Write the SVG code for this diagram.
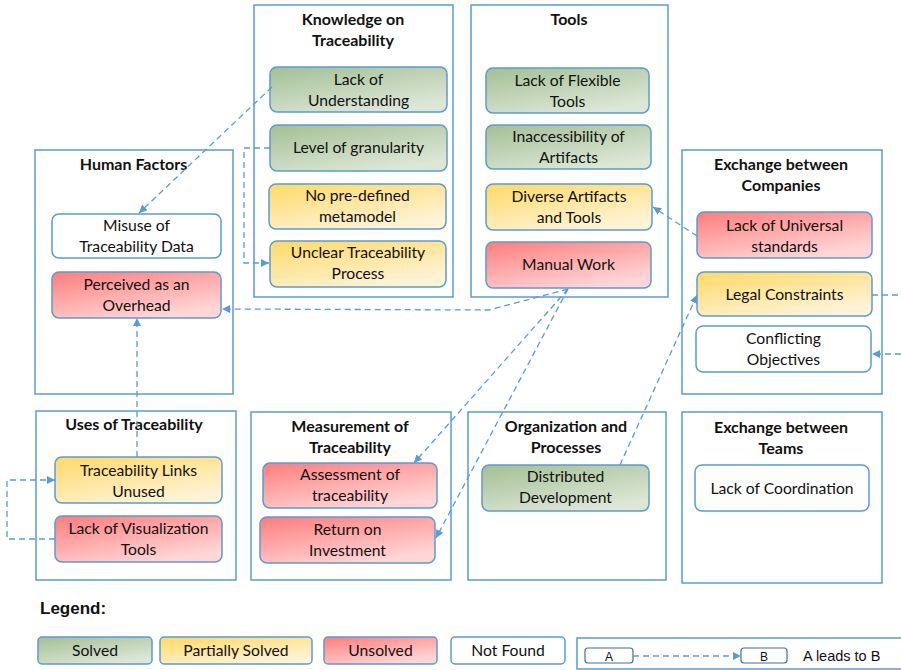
<svg xmlns="http://www.w3.org/2000/svg" width="901" height="670" viewBox="0 0 901 670">
<defs>
<linearGradient id="gG" x1="0" y1="0" x2="0.6" y2="1"><stop offset="0" stop-color="#A4BF95"/><stop offset="1" stop-color="#DCE7D6"/></linearGradient>
<linearGradient id="gY" x1="0" y1="0" x2="0.6" y2="1"><stop offset="0" stop-color="#FFD966"/><stop offset="1" stop-color="#FFF3D6"/></linearGradient>
<linearGradient id="gR" x1="0" y1="0" x2="0.6" y2="1"><stop offset="0" stop-color="#FF7C7C"/><stop offset="1" stop-color="#FFD6D6"/></linearGradient>
<marker id="ah" markerUnits="userSpaceOnUse" markerWidth="9" markerHeight="8" refX="8" refY="4" orient="auto"><path d="M0,0 L8,4 L0,8 z" fill="#5B9BD5"/></marker>
</defs>
<style>
.c{fill:none;stroke:#5B9BD5;stroke-width:1.5}
.n{stroke:#5B9BD5;stroke-width:1.5}
.w{fill:#fff}
.g{fill:url(#gG)}
.y{fill:url(#gY)}
.r{fill:url(#gR)}
.t{font-family:Lato,"Open Sans",sans-serif;font-size:15.7px;fill:#111;text-anchor:middle}
.h{font-family:Lato,"Open Sans",sans-serif;font-size:16px;font-weight:bold;fill:#111;text-anchor:middle}
.e{fill:none;stroke:#5B9BD5;stroke-width:1.3;stroke-dasharray:6,4}
.a{font-family:"Liberation Sans",Arial,sans-serif;fill:#111}
</style>

<g id="knowledge">
<rect class="c" x="254" y="5" width="199" height="292"/>
<text class="h" x="353" y="25">Knowledge on</text>
<text class="h" x="353" y="46">Traceability</text>
</g>
<g id="lack-understanding"><rect class="n g" x="270" y="67" width="177" height="45" rx="7"/><text class="t" x="358.5" y="85">Lack of</text><text class="t" x="358.5" y="106">Understanding</text></g>
<g id="level-granularity"><rect class="n g" x="270" y="125" width="177" height="46" rx="7"/><text class="t" x="358.5" y="153">Level of granularity</text></g>
<g id="no-metamodel"><rect class="n y" x="269" y="184" width="177" height="45" rx="7"/><text class="t" x="357.5" y="201">No pre-defined</text><text class="t" x="357.5" y="222">metamodel</text></g>
<g id="unclear-process"><rect class="n y" x="270" y="241" width="176" height="46" rx="7"/><text class="t" x="358" y="258">Unclear Traceability</text><text class="t" x="358" y="279">Process</text></g>

<g id="tools">
<rect class="c" x="471" y="5" width="197" height="292"/>
<text class="h" x="569" y="25">Tools</text>
</g>
<g id="flexible-tools"><rect class="n g" x="486" y="68" width="163" height="45" rx="7"/><text class="t" x="567.5" y="86">Lack of Flexible</text><text class="t" x="567.5" y="107">Tools</text></g>
<g id="inaccessibility"><rect class="n g" x="486" y="125" width="165" height="44" rx="7"/><text class="t" x="568.5" y="142">Inaccessibility of</text><text class="t" x="568.5" y="163">Artifacts</text></g>
<g id="diverse-artifacts"><rect class="n y" x="486" y="184" width="166" height="46" rx="7"/><text class="t" x="569" y="202">Diverse Artifacts</text><text class="t" x="569" y="223">and Tools</text></g>
<g id="manual-work"><rect class="n r" x="486" y="242" width="165" height="46" rx="7"/><text class="t" x="568.5" y="270">Manual Work</text></g>

<g id="human-factors">
<rect class="c" x="35" y="150" width="198" height="244"/>
<text class="h" x="133.5" y="170">Human Factors</text>
</g>
<g id="misuse"><rect class="n w" x="52" y="214" width="169" height="44" rx="7"/><text class="t" x="136.5" y="231">Misuse  of</text><text class="t" x="136.5" y="252">Traceability Data</text></g>
<g id="overhead"><rect class="n r" x="52" y="272" width="169" height="46" rx="7"/><text class="t" x="136.5" y="290">Perceived as an</text><text class="t" x="136.5" y="311">Overhead</text></g>

<g id="exchange-companies">
<rect class="c" x="682" y="150" width="200" height="244"/>
<text class="h" x="781" y="170">Exchange between</text>
<text class="h" x="781" y="191">Companies</text>
</g>
<g id="universal-standards"><rect class="n r" x="697" y="212" width="175" height="46" rx="7"/><text class="t" x="784.5" y="231">Lack of Universal</text><text class="t" x="784.5" y="252">standards</text></g>
<g id="legal-constraints"><rect class="n y" x="697" y="272" width="175" height="44" rx="7"/><text class="t" x="784.5" y="300">Legal Constraints</text></g>
<g id="conflicting-objectives"><rect class="n w" x="696" y="326" width="175" height="46" rx="7"/><text class="t" x="783.5" y="344">Conflicting</text><text class="t" x="783.5" y="365">Objectives</text></g>

<g id="uses">
<rect class="c" x="36" y="411" width="200" height="169"/>
<text class="h" x="134" y="430">Uses of Traceability</text>
</g>
<g id="links-unused"><rect class="n y" x="55" y="457" width="167" height="46" rx="7"/><text class="t" x="138.5" y="476">Traceability Links</text><text class="t" x="138.5" y="497">Unused</text></g>
<g id="visualization"><rect class="n r" x="55" y="516" width="167" height="46" rx="7"/><text class="t" x="138.5" y="534">Lack of Visualization</text><text class="t" x="138.5" y="555">Tools</text></g>

<g id="measurement">
<rect class="c" x="251" y="412" width="200" height="168"/>
<text class="h" x="350" y="432">Measurement of</text>
<text class="h" x="350" y="453">Traceability</text>
</g>
<g id="assessment"><rect class="n r" x="263" y="463" width="174" height="45" rx="7"/><text class="t" x="350" y="480">Assessment  of</text><text class="t" x="350" y="501">traceability</text></g>
<g id="roi"><rect class="n r" x="260" y="517" width="175" height="46" rx="7"/><text class="t" x="347.5" y="535">Return on</text><text class="t" x="347.5" y="556">Investment</text></g>

<g id="organization">
<rect class="c" x="468" y="412" width="198" height="168"/>
<text class="h" x="566" y="432">Organization and</text>
<text class="h" x="566" y="453">Processes</text>
</g>
<g id="distributed"><rect class="n g" x="482" y="465" width="167" height="46" rx="7"/><text class="t" x="565.5" y="482">Distributed</text><text class="t" x="565.5" y="503">Development</text></g>

<g id="exchange-teams">
<rect class="c" x="682" y="412" width="200" height="171"/>
<text class="h" x="781" y="433">Exchange between</text>
<text class="h" x="781" y="454">Teams</text>
</g>
<g id="coordination"><rect class="n w" x="695" y="465" width="174" height="46" rx="7"/><text class="t" x="782" y="494">Lack of Coordination</text></g>

<g id="connectors">
<path class="e" d="M272,87 L139,213" marker-end="url(#ah)"/>
<path class="e" d="M270,148 H244 V263 H269" marker-end="url(#ah)"/>
<path class="e" d="M568,289 L489,310 L222,309" marker-end="url(#ah)"/>
<path class="e" d="M568,289 L414,463" marker-end="url(#ah)"/>
<path class="e" d="M568,289 L436,538" marker-end="url(#ah)"/>
<path class="e" d="M697,236 L653,207" marker-end="url(#ah)"/>
<path class="e" d="M620,465 L697,295" marker-end="url(#ah)"/>
<path class="e" d="M872,295 H901"/>
<path class="e" d="M901,354 H872" marker-end="url(#ah)"/>
<path class="e" d="M137,457 V318" marker-end="url(#ah)"/>
<path class="e" d="M55,539 H7 V480 H55" marker-end="url(#ah)"/>
</g>

<g id="legend">
<text class="a" x="40" y="614" font-size="17" font-weight="bold">Legend:</text>
<rect class="n g" x="38" y="637" width="114" height="27" rx="4"/><text class="t" x="95" y="656">Solved</text>
<rect class="n y" x="160" y="637" width="152" height="27" rx="4"/><text class="t" x="236" y="656">Partially Solved</text>
<rect class="n r" x="324" y="637" width="113" height="27" rx="4"/><text class="t" x="380.5" y="656">Unsolved</text>
<rect class="n w" x="451" y="637" width="114" height="27" rx="4"/><text class="t" x="508" y="656">Not Found</text>
<rect class="c" x="577" y="638" width="330" height="31"/>
<rect x="585" y="648" width="48" height="15" rx="3" fill="#fff" stroke="#41719C" stroke-width="1.2"/>
<text class="a" x="609" y="660.5" font-size="12" text-anchor="middle">A</text>
<path class="e" d="M633,656 H741" marker-end="url(#ah)"/>
<rect x="741" y="648" width="46" height="15" rx="3" fill="#fff" stroke="#41719C" stroke-width="1.2"/>
<text class="a" x="764" y="660.5" font-size="12" text-anchor="middle">B</text>
<text class="a" x="803" y="661" font-size="14.5">A leads to B</text>
</g>
</svg>
